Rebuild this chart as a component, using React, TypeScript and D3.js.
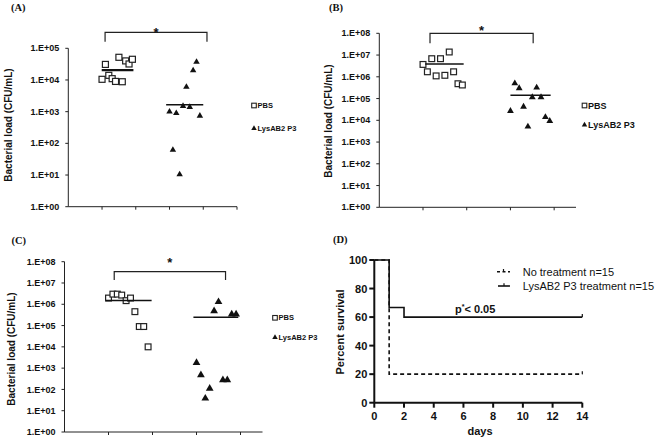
import React from 'react';
import * as d3 from 'd3';

// ---------- DATA ----------
const pbsX = [1.0, 1.1, 1.2, 1.3, 1.4, 1.5, 1.6, 1.7, 1.8, 1.9];
const lysX = [3.0, 3.1, 3.2, 3.3, 3.4, 3.5, 3.6, 3.7, 3.8, 3.9];

const panelAPbs = [1.05e4, 3.1e4, 1.4e4, 1.1e4, 9e3, 5.2e4, 8.8e3, 4e4, 3.2e4, 4.5e4];
const panelALys = [1.0e3, 62, 9e2, 10.5, 1.5e3, 6e3, 1.4e3, 2e4, 3.7e4, 7.4e2];
const panelAMeans = [2.05e4, 1.65e3];

const panelBPbs = [3.7e6, 1.7e6, 6.8e6, 1.1e6, 6.8e6, 1.17e6, 1.38e7, 1.7e6, 4.8e5, 4.2e5];
const panelBLys = [2.7e4, 5e5, 3e5, 4.2e4, 5.1e3, 1.15e5, 3.2e5, 1.15e5, 1.4e4, 9.3e3];
const panelBMeans = [3.9e6, 1.4e5];

const panelCPbs = [1.96e6, 3e6, 3e6, 2.7e6, 1.48e6, 1.96e6, 4.5e5, 9e4, 9e4, 1e4];
const panelCLys = [1.8e3, 4.8e2, 38, 1.1e2, 4.8e5, 1.3e6, 2.8e2, 2.8e2, 3.4e5, 3.4e5];
const panelCMeans = [1.5e6, 2.45e5];

const decadeLabels = ['1.E+00', '1.E+01', '1.E+02', '1.E+03', '1.E+04', '1.E+05', '1.E+06', '1.E+07', '1.E+08'];
const groupNames = ['PBS', 'LysAB2 P3'];

const survivalDayTicks = [0, 2, 4, 6, 8, 10, 12, 14];
const survivalPctTicks = [0, 20, 40, 60, 80, 100];
const noTreatDays = [0, 1, 14];
const noTreatSurv = [100, 20, 20];
const lysDays = [0, 1, 2, 14];
const lysSurv = [100, 66.7, 60, 60];
const survivalLegend = ['No treatment n=15', 'LysAB2 P3 treatment n=15'];

const SANS = '"Liberation Sans", Arial, sans-serif';
const SERIF = '"Liberation Serif", "Times New Roman", serif';

type PanelProps = {
  title: string;
  titleX: number;
  titleY: number;
  xDomain: [number, number];
  xRange: [number, number];
  xTicks: number[];
  maxExp: number;
  yRange: [number, number];
  pbs: number[];
  lys: number[];
  means: number[];
  pbsMeanX: [number, number];
  lysMeanX: [number, number];
  meanWidths: [number, number];
  bracketX: [number, number];
  bracketY: number;
  bracketLeg: number;
  starY: number;
  legendX: number;
  legendY: [number, number];
  legendFont: number;
  yTitleX: number;
  yTitleCY: number;
  sqSize: number;
  triSize: number;
};

function ScatterPanel(p: PanelProps) {
  const x = d3.scaleLinear().domain(p.xDomain).range(p.xRange);
  const y = d3.scaleLog().domain([1, Math.pow(10, p.maxExp)]).range(p.yRange);
  const axisX = p.xRange[0];
  const axisY = p.yRange[0];
  const tri = d3.symbol().type(d3.symbolTriangle).size(p.triSize)() as string;
  const triLegend = d3.symbol().type(d3.symbolTriangle).size(13)() as string;
  const exps = d3.range(0, p.maxExp + 1);
  const h = p.sqSize;
  return (
    <g>
      <text x={p.titleX} y={p.titleY} fontFamily={SERIF} fontWeight="bold" fontSize={10.5} fill="#111">{p.title}</text>
      {/* axes */}
      <line x1={axisX} x2={axisX} y1={p.yRange[0]} y2={p.yRange[1]} stroke="#222" strokeWidth={1} />
      <line x1={p.xRange[0]} x2={p.xRange[1]} y1={axisY} y2={axisY} stroke="#222" strokeWidth={1} />
      {exps.map((e) => (
        <g key={e}>
          <line x1={axisX - 3} x2={axisX} y1={y(Math.pow(10, e))} y2={y(Math.pow(10, e))} stroke="#222" />
          <text x={axisX - 9} y={y(Math.pow(10, e))} dy="0.35em" textAnchor="end" fontFamily={SANS} fontWeight="bold" fontSize={9} fill="#111">{decadeLabels[e]}</text>
        </g>
      ))}
      {p.xTicks.map((t) => (
        <line key={t} x1={x(t)} x2={x(t)} y1={axisY} y2={axisY + 3} stroke="#222" />
      ))}
      <text transform={`translate(${p.yTitleX},${p.yTitleCY}) rotate(-90)`} textAnchor="middle" fontFamily={SANS} fontWeight="bold" fontSize={10} fill="#111">Bacterial load (CFU/mL)</text>
      {/* bracket */}
      <path d={`M${x(p.bracketX[0])},${p.bracketLeg}V${p.bracketY}H${x(p.bracketX[1])}V${p.bracketLeg}`} fill="none" stroke="#222" strokeWidth={1.2} />
      <text x={(x(p.bracketX[0]) + x(p.bracketX[1])) / 2} y={p.starY} textAnchor="middle" fontFamily={SANS} fontWeight="bold" fontSize={13} fill="#111">*</text>
      {/* points */}
      {p.pbs.map((v, i) => (
        <rect key={'p' + i} x={x(pbsX[i]) - h / 2} y={y(v) - h / 2} width={h} height={h} fill="white" stroke="#222" strokeWidth={1.2} />
      ))}
      {p.lys.map((v, i) => (
        <path key={'l' + i} d={tri} transform={`translate(${x(lysX[i])},${y(v)})`} fill="#111" />
      ))}
      {/* means */}
      <line x1={x(p.pbsMeanX[0])} x2={x(p.pbsMeanX[1])} y1={y(p.means[0])} y2={y(p.means[0])} stroke="#111" strokeWidth={p.meanWidths[0]} />
      <line x1={x(p.lysMeanX[0])} x2={x(p.lysMeanX[1])} y1={y(p.means[1])} y2={y(p.means[1])} stroke="#111" strokeWidth={p.meanWidths[1]} />
      {/* legend */}
      <rect x={p.legendX - 2.3} y={p.legendY[0] - 2.3} width={4.6} height={4.6} fill="white" stroke="#222" strokeWidth={1.1} />
      <text x={p.legendX + 3.5} y={p.legendY[0]} dy="0.35em" fontFamily={SANS} fontWeight="bold" fontSize={p.legendFont} fill="#111">{groupNames[0]}</text>
      <path d={triLegend} transform={`translate(${p.legendX},${p.legendY[1]})`} fill="#111" />
      <text x={p.legendX + 3.5} y={p.legendY[1]} dy="0.35em" fontFamily={SANS} fontWeight="bold" fontSize={p.legendFont} fill="#111">{groupNames[1]}</text>
    </g>
  );
}

function SurvivalPanel() {
  const x = d3.scaleLinear().domain([0, 14]).range([374.3, 582.3]);
  const y = d3.scaleLinear().domain([0, 100]).range([402.7, 260]);
  const line = d3.line<[number, number]>().x((d) => x(d[0])).y((d) => y(d[1])).curve(d3.curveStepAfter);
  const noTreat = noTreatDays.map((d, i) => [d, noTreatSurv[i]] as [number, number]);
  const lys = lysDays.map((d, i) => [d, lysSurv[i]] as [number, number]);
  const endX = x(14);
  return (
    <g>
      <text x={333} y={243} fontFamily={SERIF} fontWeight="bold" fontSize={10.5} fill="#111">(D)</text>
      <path d={line(lys) as string} fill="none" stroke="#111" strokeWidth={1.6} />
      <path d={line(noTreat) as string} fill="none" stroke="#111" strokeWidth={1.6} strokeDasharray="4,3" />
      <line x1={endX} x2={endX} y1={y(60)} y2={y(60) - 3} stroke="#111" strokeWidth={1.2} />
      <line x1={endX} x2={endX} y1={y(20)} y2={y(20) - 3} stroke="#111" strokeWidth={1.2} />
      {/* axes */}
      <line x1={x(0)} x2={x(14)} y1={y(0)} y2={y(0)} stroke="#111" strokeWidth={2} />
      <line x1={x(0)} x2={x(0)} y1={y(0)} y2={y(100)} stroke="#111" strokeWidth={2} />
      {survivalPctTicks.map((t) => (
        <g key={t}>
          <line x1={x(0) - 5} x2={x(0)} y1={y(t)} y2={y(t)} stroke="#111" strokeWidth={2} />
          <text x={x(0) - 7} y={y(t)} dy="0.36em" textAnchor="end" fontFamily={SANS} fontWeight="bold" fontSize={11} fill="#111">{t}</text>
        </g>
      ))}
      {survivalDayTicks.map((t) => (
        <g key={t}>
          <line x1={x(t)} x2={x(t)} y1={y(0)} y2={y(0) + 5} stroke="#111" strokeWidth={2} />
          <text x={x(t)} y={420} textAnchor="middle" fontFamily={SANS} fontWeight="bold" fontSize={11} fill="#111">{t}</text>
        </g>
      ))}
      <text x={480} y={435} textAnchor="middle" fontFamily={SANS} fontWeight="bold" fontSize={11} fill="#111">days</text>
      <text transform="translate(344,332) rotate(-90)" textAnchor="middle" fontFamily={SANS} fontWeight="bold" fontSize={11} fill="#111">Percent survival</text>
      <text x={455} y={313} fontFamily={SANS} fontWeight="bold" fontSize={11} fill="#111">p<tspan fontSize={7} dy={-4}>*</tspan><tspan dy={4}>&lt; 0.05</tspan></text>
      {/* legend */}
      <line x1={497} x2={510} y1={271.7} y2={271.7} stroke="#111" strokeWidth={1.6} strokeDasharray="3,2.5" />
      <line x1={503.5} x2={503.5} y1={271.7} y2={269} stroke="#111" strokeWidth={1.2} />
      <text x={522.7} y={275.5} fontFamily={SANS} fontSize={11} fill="#111">{survivalLegend[0]}</text>
      <line x1={498} x2={510} y1={286} y2={286} stroke="#111" strokeWidth={1.6} />
      <line x1={504} x2={504} y1={286} y2={283.3} stroke="#111" strokeWidth={1.2} />
      <text x={522.7} y={290} fontFamily={SANS} fontSize={11} fill="#111">{survivalLegend[1]}</text>
    </g>
  );
}

export default function App() {
  return (
    <svg width={660} height={440} style={{ position: 'absolute', left: 0, top: 0, background: 'white' }}>
      <rect width={660} height={440} fill="white" />
      <ScatterPanel
        title="(A)" titleX={11} titleY={10.5}
        xDomain={[0, 5]} xRange={[68.3, 237]} xTicks={[1, 2, 3, 4, 5]}
        maxExp={5} yRange={[206.7, 48.3]}
        pbs={panelAPbs} lys={panelALys} means={panelAMeans}
        pbsMeanX={[0.99, 1.93]} lysMeanX={[2.9, 4.0]} meanWidths={[2.2, 1.5]}
        bracketX={[1.09, 4.11]} bracketY={32.3} bracketLeg={41.7} starY={37}
        legendX={254} legendY={[105.5, 128.5]} legendFont={7.5}
        yTitleX={12} yTitleCY={125}
        sqSize={6} triSize={18}
      />
      <ScatterPanel
        title="(B)" titleX={329} titleY={11}
        xDomain={[0, 4.5]} xRange={[379.3, 576]} xTicks={[1, 2, 3, 4]}
        maxExp={8} yRange={[207.3, 33.3]}
        pbs={panelBPbs} lys={panelBLys} means={panelBMeans}
        pbsMeanX={[1.05, 1.93]} lysMeanX={[3.0, 3.92]} meanWidths={[1.5, 1.5]}
        bracketX={[1.16, 3.52]} bracketY={33.3} bracketLeg={43.3} starY={34.5}
        legendX={584.5} legendY={[105.5, 125]} legendFont={9}
        yTitleX={332} yTitleCY={121}
        sqSize={5.8} triSize={20}
      />
      <ScatterPanel
        title="(C)" titleX={11.5} titleY={243.5}
        xDomain={[0, 4.5]} xRange={[64.5, 262.5]} xTicks={[1, 2, 3, 4]}
        maxExp={8} yRange={[432, 261.7]}
        pbs={panelCPbs} lys={panelCLys} means={panelCMeans}
        pbsMeanX={[0.94, 1.98]} lysMeanX={[2.93, 3.95]} meanWidths={[1.6, 1.6]}
        bracketX={[1.13, 3.66]} bracketY={271.7} bracketLeg={280} starY={266.5}
        legendX={275} legendY={[317.8, 337.3]} legendFont={7.5}
        yTitleX={15} yTitleCY={349}
        sqSize={5.8} triSize={26}
      />
      <SurvivalPanel />
    </svg>
  );
}
